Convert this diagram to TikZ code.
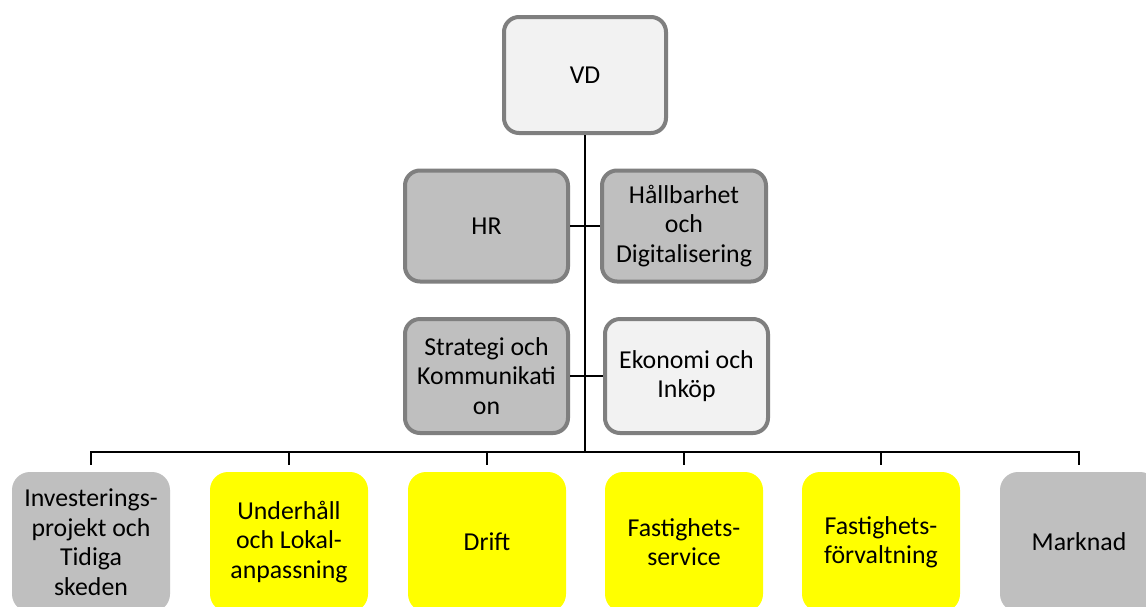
\documentclass[tikz,border=0pt]{standalone}
\usepackage{fontspec}
\setmainfont{Carlito}
\definecolor{boxgrey}{HTML}{BFBFBF}
\definecolor{boxlight}{HTML}{F2F2F2}
\definecolor{bordergrey}{HTML}{7F7F7F}
\definecolor{boxyellow}{HTML}{FFFF00}
\tikzset{
  orgtxt/.style={font=\fontsize{25.8}{29.5}\selectfont, align=center, text=black},
  topbox/.style={orgtxt, draw=bordergrey, line width=4pt, rounded corners=15pt, inner sep=0pt},
  botbox/.style={orgtxt, rounded corners=18pt, minimum width=158pt, minimum height=140pt, inner sep=0pt},
  link/.style={draw=black, line width=1.6pt},
  stub/.style={draw=black, line width=1.1pt},
}
\begin{document}
\begin{tikzpicture}[x=1pt,y=-1pt]
\fill[white] (0,0) rectangle (1146,606);
\clip (0,0) rectangle (1146,606);
% upper boxes
\node[topbox, fill=boxlight, minimum width=162pt, minimum height=116pt] (vd) at (585,75) {VD};
\node[topbox, fill=boxgrey, minimum width=163pt, minimum height=111pt] (hr) at (486.5,226) {HR};
\node[topbox, fill=boxgrey, minimum width=164pt, minimum height=111pt] (hd) at (684,226) {Hållbarhet\\och\\Digitalisering};
\node[topbox, fill=boxgrey, minimum width=163pt, minimum height=114pt] (sk) at (486.5,376) {Strategi och\\Kommunikati\\on};
\node[topbox, fill=boxlight, minimum width=163pt, minimum height=114pt] (ek) at (686.5,376) {Ekonomi och\\Inköp};
% bottom boxes
\node[botbox, fill=boxgrey] (inv) at (91,542) {Investerings-\\projekt och\\Tidiga\\skeden};
\node[botbox, fill=boxyellow] (uh) at (289,542) {Underhåll\\och Lokal-\\anpassning};
\node[botbox, fill=boxyellow] (dr) at (487,542) {Drift};
\node[botbox, fill=boxyellow] (fs) at (684,542) {Fastighets-\\service};
\node[botbox, fill=boxyellow] (ff) at (881,542) {Fastighets-\\förvaltning};
\node[botbox, fill=boxgrey] (mk) at (1079,542) {Marknad};
% connectors
\coordinate (bus) at (585,452);
\draw[link] (vd.south) -- (bus);
\draw[link] (hr.east) -- (hd.west);
\draw[link] (sk.east) -- (ek.west);
\draw[link] (bus) -| ([yshift=7pt]inv.north);
\draw[stub] (bus) -| ([yshift=7pt]uh.north);
\draw[stub] (bus) -| ([yshift=7pt]dr.north);
\draw[stub] (bus) -| ([yshift=7pt]fs.north);
\draw[stub] (bus) -| ([yshift=7pt]ff.north);
\draw[stub] (bus) -| ([yshift=7pt]mk.north);
\end{tikzpicture}
\end{document}
